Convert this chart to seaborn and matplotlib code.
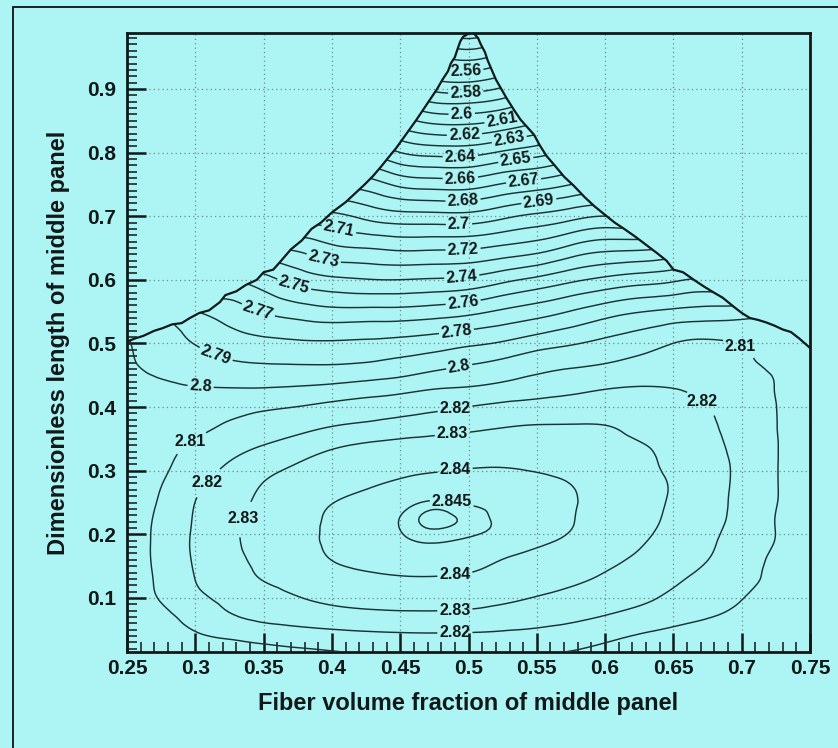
import matplotlib
matplotlib.use("Agg")
import numpy as np
import pandas as pd
import matplotlib.pyplot as plt
from matplotlib.lines import Line2D
from matplotlib.patches import Polygon
from matplotlib.ticker import MultipleLocator, FixedLocator, FuncFormatter
from matplotlib.tri import Triangulation, UniformTriRefiner
import seaborn as sns

# ---------------- data ----------------
fiber_fraction = [0.25, 0.275, 0.30, 0.325, 0.35, 0.375, 0.40, 0.425, 0.45, 0.475, 0.50,
                  0.525, 0.55, 0.575, 0.60, 0.625, 0.65, 0.675, 0.70, 0.725, 0.75]
length_ratio = [0.015, 0.04, 0.07, 0.10, 0.13, 0.16, 0.19, 0.22, 0.25, 0.28, 0.31, 0.34,
                0.37, 0.40, 0.43, 0.46, 0.50, 0.55, 0.60, 0.65, 0.70, 0.75, 0.80, 0.85,
                0.90, 0.95, 1.00]
objective = [
    [2.8030, 2.8037, 2.8045, 2.8055, 2.8067, 2.8080, 2.8095, 2.8107, 2.8117, 2.8123, 2.8124, 2.8118, 2.8108, 2.8098, 2.8088, 2.8078, 2.8068, 2.8060, 2.8052, 2.8042, 2.8030],
    [2.8040, 2.8062, 2.8088, 2.8114, 2.8136, 2.8154, 2.8167, 2.8177, 2.8183, 2.8185, 2.8183, 2.8175, 2.8162, 2.8143, 2.8118, 2.8094, 2.8075, 2.8060, 2.8050, 2.8045, 2.8040],
    [2.8050, 2.8078, 2.8133, 2.8189, 2.8220, 2.8240, 2.8256, 2.8267, 2.8273, 2.8275, 2.8272, 2.8260, 2.8244, 2.8222, 2.8194, 2.8164, 2.8134, 2.8104, 2.8080, 2.8063, 2.8050],
    [2.8050, 2.8107, 2.8177, 2.8224, 2.8260, 2.8296, 2.8321, 2.8337, 2.8344, 2.8343, 2.8335, 2.8319, 2.8295, 2.8268, 2.8242, 2.8216, 2.8184, 2.8143, 2.8102, 2.8080, 2.8060],
    [2.8050, 2.8119, 2.8201, 2.8253, 2.8305, 2.8340, 2.8366, 2.8384, 2.8393, 2.8394, 2.8388, 2.8373, 2.8351, 2.8321, 2.8286, 2.8250, 2.8214, 2.8171, 2.8123, 2.8085, 2.8060],
    [2.8050, 2.8125, 2.8210, 2.8274, 2.8323, 2.8362, 2.8401, 2.8419, 2.8429, 2.8432, 2.8422, 2.8399, 2.8373, 2.8346, 2.8318, 2.8286, 2.8243, 2.8201, 2.8142, 2.8085, 2.8060],
    [2.8050, 2.8126, 2.8214, 2.8283, 2.8333, 2.8376, 2.8412, 2.8432, 2.8446, 2.8452, 2.8447, 2.8438, 2.8417, 2.8385, 2.8348, 2.8310, 2.8265, 2.8216, 2.8156, 2.8098, 2.8060],
    [2.8050, 2.8122, 2.8209, 2.8280, 2.8332, 2.8376, 2.8409, 2.8431, 2.8451, 2.8463, 2.8457, 2.8445, 2.8424, 2.8403, 2.8366, 2.8326, 2.8281, 2.8229, 2.8169, 2.8098, 2.8060],
    [2.8050, 2.8111, 2.8201, 2.8266, 2.8319, 2.8359, 2.8398, 2.8420, 2.8440, 2.8453, 2.8448, 2.8440, 2.8420, 2.8405, 2.8373, 2.8332, 2.8289, 2.8235, 2.8174, 2.8103, 2.8060],
    [2.8050, 2.8097, 2.8177, 2.8243, 2.8302, 2.8330, 2.8359, 2.8388, 2.8410, 2.8421, 2.8425, 2.8422, 2.8413, 2.8399, 2.8363, 2.8329, 2.8292, 2.8237, 2.8177, 2.8104, 2.8060],
    [2.8050, 2.8082, 2.8145, 2.8207, 2.8264, 2.8303, 2.8337, 2.8359, 2.8375, 2.8387, 2.8393, 2.8395, 2.8389, 2.8375, 2.8353, 2.8322, 2.8281, 2.8233, 2.8178, 2.8104, 2.8060],
    [2.8045, 2.8072, 2.8112, 2.8155, 2.8201, 2.8242, 2.8283, 2.8312, 2.8329, 2.8341, 2.8350, 2.8354, 2.8355, 2.8347, 2.8331, 2.8307, 2.8267, 2.8224, 2.8171, 2.8104, 2.8060],
    [2.8040, 2.8057, 2.8082, 2.8109, 2.8136, 2.8168, 2.8199, 2.8219, 2.8238, 2.8257, 2.8276, 2.8295, 2.8304, 2.8305, 2.8302, 2.8276, 2.8244, 2.8213, 2.8163, 2.8102, 2.8060],
    [2.8035, 2.8047, 2.8060, 2.8073, 2.8088, 2.8102, 2.8124, 2.8143, 2.8163, 2.8182, 2.8202, 2.8224, 2.8240, 2.8251, 2.8255, 2.8252, 2.8238, 2.8201, 2.8151, 2.8101, 2.8055],
    [2.8030, 2.8015, 2.8005, 2.8001, 2.8001, 2.8010, 2.8025, 2.8045, 2.8065, 2.8094, 2.8106, 2.8127, 2.8148, 2.8170, 2.8195, 2.8205, 2.8199, 2.8168, 2.8135, 2.8098, 2.8055],
    [2.8020, 2.7980, 2.7960, 2.7930, 2.7919, 2.7918, 2.7919, 2.7932, 2.7956, 2.7989, 2.8018, 2.8048, 2.8083, 2.8102, 2.8120, 2.8145, 2.8155, 2.8148, 2.8125, 2.8088, 2.8050],
    [2.8010, 2.7940, 2.7897, 2.7850, 2.7827, 2.7815, 2.7813, 2.7819, 2.7833, 2.7854, 2.7883, 2.7912, 2.7957, 2.7991, 2.8024, 2.8058, 2.8101, 2.8115, 2.8093, 2.8060, 2.8050],
    [2.7850, 2.7870, 2.7806, 2.7750, 2.7694, 2.7655, 2.7630, 2.7631, 2.7633, 2.7649, 2.7673, 2.7716, 2.7756, 2.7805, 2.7857, 2.7896, 2.7921, 2.7937, 2.7949, 2.7970, 2.7950],
    [2.7488, 2.7538, 2.7536, 2.7580, 2.7539, 2.7462, 2.7421, 2.7405, 2.7401, 2.7410, 2.7425, 2.7475, 2.7525, 2.7580, 2.7624, 2.7656, 2.7684, 2.7712, 2.7674, 2.7623, 2.7462],
    [2.7213, 2.7263, 2.7261, 2.7305, 2.7298, 2.7278, 2.7220, 2.7199, 2.7181, 2.7185, 2.7190, 2.7221, 2.7257, 2.7324, 2.7371, 2.7379, 2.7413, 2.7437, 2.7399, 2.7348, 2.7187],
    [2.6938, 2.6988, 2.6986, 2.7030, 2.7023, 2.7030, 2.7027, 2.6975, 2.6938, 2.6933, 2.6933, 2.6978, 2.7022, 2.7065, 2.7101, 2.7090, 2.7138, 2.7162, 2.7124, 2.7073, 2.6912],
    [2.6663, 2.6713, 2.6711, 2.6755, 2.6748, 2.6755, 2.6764, 2.6754, 2.6678, 2.6656, 2.6656, 2.6708, 2.6746, 2.6799, 2.6825, 2.6815, 2.6863, 2.6887, 2.6849, 2.6798, 2.6637],
    [2.6388, 2.6438, 2.6436, 2.6480, 2.6473, 2.6480, 2.6489, 2.6486, 2.6401, 2.6365, 2.6365, 2.6415, 2.6461, 2.6525, 2.6550, 2.6540, 2.6588, 2.6612, 2.6574, 2.6523, 2.6362],
    [2.6113, 2.6163, 2.6161, 2.6205, 2.6198, 2.6205, 2.6214, 2.6211, 2.6140, 2.6071, 2.6067, 2.6108, 2.6180, 2.6250, 2.6275, 2.6265, 2.6313, 2.6337, 2.6299, 2.6248, 2.6087],
    [2.5838, 2.5888, 2.5886, 2.5930, 2.5923, 2.5930, 2.5939, 2.5936, 2.5865, 2.5777, 2.5765, 2.5815, 2.5905, 2.5975, 2.6001, 2.5990, 2.6038, 2.6062, 2.6024, 2.5973, 2.5812],
    [2.5563, 2.5613, 2.5611, 2.5655, 2.5648, 2.5655, 2.5664, 2.5661, 2.5590, 2.5515, 2.5471, 2.5540, 2.5630, 2.5701, 2.5725, 2.5715, 2.5763, 2.5787, 2.5749, 2.5698, 2.5537],
    [2.5288, 2.5338, 2.5336, 2.5380, 2.5373, 2.5380, 2.5389, 2.5386, 2.5315, 2.5240, 2.5176, 2.5265, 2.5355, 2.5425, 2.5450, 2.5440, 2.5488, 2.5512, 2.5474, 2.5423, 2.5262],
]
contour_levels = [2.53, 2.54, 2.55, 2.56, 2.57, 2.58, 2.59, 2.6, 2.61, 2.62, 2.63, 2.64,
                  2.65, 2.66, 2.67, 2.68, 2.69, 2.7, 2.71, 2.72, 2.73, 2.74, 2.75, 2.76,
                  2.77, 2.78, 2.79, 2.8, 2.81, 2.82, 2.83, 2.84, 2.845, 2.846]

# edge of the feasible region (tent-shaped upper limit)
edge_left_x = [0.250, 0.256, 0.262, 0.270, 0.276, 0.283, 0.290, 0.296, 0.303, 0.310, 0.318,
               0.322, 0.330, 0.337, 0.345, 0.350, 0.357, 0.362, 0.370, 0.378, 0.385, 0.392,
               0.400, 0.410, 0.418, 0.424, 0.430, 0.436, 0.442, 0.447, 0.452, 0.458, 0.462,
               0.467, 0.472, 0.477, 0.481, 0.485, 0.487, 0.490, 0.492, 0.494, 0.496, 0.500]
edge_left_y = [0.503, 0.508, 0.512, 0.520, 0.524, 0.530, 0.532, 0.540, 0.548, 0.552, 0.565,
               0.576, 0.582, 0.592, 0.600, 0.612, 0.616, 0.628, 0.648, 0.662, 0.680, 0.690,
               0.706, 0.722, 0.738, 0.750, 0.763, 0.778, 0.794, 0.807, 0.822, 0.840, 0.852,
               0.868, 0.884, 0.900, 0.915, 0.928, 0.940, 0.950, 0.963, 0.975, 0.982, 0.987]
edge_right_x = [0.504, 0.507, 0.509, 0.512, 0.514, 0.517, 0.520, 0.524, 0.528, 0.533, 0.538,
                0.543, 0.548, 0.552, 0.557, 0.563, 0.570, 0.577, 0.585, 0.592, 0.600, 0.607,
                0.614, 0.622, 0.630, 0.638, 0.645, 0.650, 0.657, 0.665, 0.672, 0.678, 0.686,
                0.694, 0.700, 0.706, 0.712, 0.718, 0.724, 0.730, 0.736, 0.742, 0.750]
edge_right_y = [0.987, 0.980, 0.970, 0.958, 0.945, 0.930, 0.915, 0.900, 0.885, 0.868, 0.852,
                0.840, 0.828, 0.812, 0.795, 0.780, 0.762, 0.748, 0.730, 0.716, 0.702, 0.690,
                0.680, 0.668, 0.655, 0.642, 0.630, 0.616, 0.612, 0.600, 0.590, 0.582, 0.572,
                0.558, 0.548, 0.540, 0.537, 0.533, 0.528, 0.522, 0.518, 0.508, 0.493]

x_ticks = [0.25, 0.3, 0.35, 0.4, 0.45, 0.5, 0.55, 0.6, 0.65, 0.7, 0.75]
y_ticks = [0.1, 0.2, 0.3, 0.4, 0.5, 0.6, 0.7, 0.8, 0.9]

# ---------------- layout / style ----------------
label_spots = {
    2.56: [(0.498, 0.928)], 2.58: [(0.498, 0.894)], 2.6: [(0.495, 0.862)],
    2.62: [(0.497, 0.828)], 2.64: [(0.494, 0.794)], 2.66: [(0.494, 0.760)],
    2.68: [(0.496, 0.723)], 2.7: [(0.493, 0.688)], 2.72: [(0.496, 0.648)],
    2.74: [(0.495, 0.606)], 2.76: [(0.496, 0.566)], 2.78: [(0.491, 0.522)],
    2.8: [(0.493, 0.466), (0.304, 0.437)],
    2.61: [(0.525, 0.844)], 2.63: [(0.530, 0.818)], 2.65: [(0.534, 0.800)],
    2.67: [(0.540, 0.763)], 2.69: [(0.551, 0.734)],
    2.71: [(0.404, 0.668)], 2.73: [(0.394, 0.634)], 2.75: [(0.372, 0.590)],
    2.77: [(0.345, 0.545)], 2.79: [(0.315, 0.482)],
    2.81: [(0.291, 0.367), (0.696, 0.485)],
    2.82: [(0.302, 0.296), (0.490, 0.399), (0.490, 0.049), (0.667, 0.394)],
    2.83: [(0.325, 0.234), (0.488, 0.363), (0.490, 0.082)],
    2.84: [(0.490, 0.305), (0.490, 0.137)],
    2.845: [(0.488, 0.255)],
}

BG = "#adf5f5"
INK = "#111818"
LINE = "#1b3333"

sns.set_theme(style="ticks")
plt.rcParams.update({
    "font.family": ["Liberation Sans", "DejaVu Sans"],
    "font.weight": "bold",
    "axes.labelweight": "bold",
    "text.color": INK,
    "axes.labelcolor": INK,
    "xtick.color": INK,
    "ytick.color": INK,
})

field = pd.DataFrame(objective, index=length_ratio, columns=fiber_fraction)

fig = plt.figure(figsize=(8.38, 7.48), dpi=100)
fig.patch.set_facecolor(BG)
ax = fig.add_axes([0.1516, 0.1283, 0.8150, 0.8276])
ax.set_facecolor(BG)

verts = ([(0.25, 0.0)] + list(zip(edge_left_x, edge_left_y))
         + list(zip(edge_right_x, edge_right_y)) + [(0.75, 0.0)])
region = Polygon(verts, closed=True, fill=False, edgecolor="none",
                 transform=ax.transData)
ax.add_patch(region)

# triangulated grid of the table, smoothed for display by matplotlib's refiner
X = field.columns.values.astype(float)
Y = field.index.values.astype(float)
XX, YY = np.meshgrid(X, Y)
nr, nc = XX.shape
tris = []
for i in range(nr - 1):
    for j in range(nc - 1):
        a = i * nc + j
        b, c, d = a + 1, a + nc, a + nc + 1
        tris.append([a, b, d])
        tris.append([a, d, c])
grid_tri = Triangulation(XX.ravel(), YY.ravel(), np.array(tris))
fine_tri, fine_z = UniformTriRefiner(grid_tri).refine_field(field.values.ravel(), subdiv=3)

fmt = lambda v: f"{v:g}"
for lv in contour_levels:
    cs = ax.tricontour(fine_tri, fine_z, levels=[lv], colors=LINE, linewidths=1.05, zorder=3)
    cs.set_clip_path(region)
    if lv in label_spots:
        before = set(id(t) for t in ax.texts)
        cs.clabel(manual=label_spots[lv], inline=True, inline_spacing=2,
                  fmt=fmt, fontsize=11.5, colors=INK)
        new = [t for t in ax.texts if id(t) not in before]
        for t in new:
            t.set_fontweight("bold")
            if lv >= 2.805:
                t.set_rotation(0)

ax.plot(edge_left_x, edge_left_y, color="#0c1a1a", lw=1.6, zorder=4)
ax.plot(edge_right_x, edge_right_y, color="#0c1a1a", lw=1.6, zorder=4)

ax.set_xlim(0.25, 0.75)
ax.set_ylim(0.015, 0.988)
ax.xaxis.set_major_locator(FixedLocator(x_ticks))
ax.yaxis.set_major_locator(FixedLocator(y_ticks))
ax.xaxis.set_minor_locator(MultipleLocator(0.01))
ax.yaxis.set_minor_locator(MultipleLocator(0.01))
ax.xaxis.set_major_formatter(FuncFormatter(lambda v, p: f"{v:g}"))
ax.yaxis.set_major_formatter(FuncFormatter(lambda v, p: f"{v:g}"))
ax.tick_params(which="major", direction="in", length=14, width=1.8,
               top=False, right=False, labelsize=15)
ax.tick_params(axis="x", which="major", pad=5)
ax.tick_params(axis="y", which="major", pad=8)
ax.tick_params(which="minor", direction="in", length=7, width=1.1,
               top=False, right=False)
ax.grid(True, which="major", color="#6a8c8c", linestyle=(0, (1, 2.5)), linewidth=0.9)
ax.set_axisbelow(True)
for s in ax.spines.values():
    s.set_linewidth(2.0)
    s.set_color(INK)
    s.set_visible(True)

ax.set_xlabel("Fiber volume fraction of middle panel", fontsize=17, fontweight="bold")
ax.set_ylabel("Dimensionless length of middle panel", fontsize=17, fontweight="bold")
ax.xaxis.set_label_coords(0.5, -0.065)
ax.yaxis.set_label_coords(-0.084, 0.5)

# outer page frame (left and top edges visible)
fig.add_artist(Line2D([0.0155, 0.0155], [0.0, 0.9906], transform=fig.transFigure,
                      color="#1a2222", lw=1.4))
fig.add_artist(Line2D([0.0155, 1.0], [0.9906, 0.9906], transform=fig.transFigure,
                      color="#1a2222", lw=1.4))

fig.savefig("out.png", dpi=100, facecolor=BG)
